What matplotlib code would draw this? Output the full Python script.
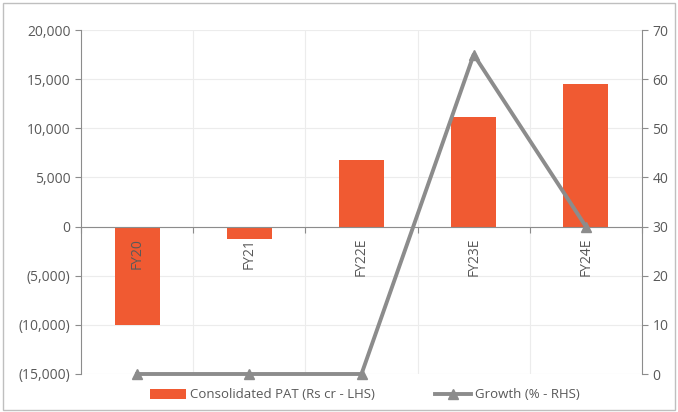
import numpy as np
import matplotlib.pyplot as plt
from matplotlib.ticker import FuncFormatter

# data
years = ['FY20', 'FY21', 'FY22E', 'FY23E', 'FY24E']
pat = [-10000, -1300, 6800, 11100, 14500]
growth = [0, 0, 0, 65, 30]

plt.rcParams['font.family'] = ['Open Sans', 'DejaVu Sans']
txt = '#595959'
gray = '#8c8c8c'
orange = '#F05A32'

fig = plt.figure(figsize=(6.78, 4.12), dpi=100)
ax = fig.add_axes([81/678, 38/412, (642-81)/678, (374-30)/412])
x = np.arange(len(years))

ax.bar(x, pat, width=0.4, color=orange, label='Consolidated PAT (Rs cr - LHS)', zorder=3)
ax.set_xlim(-0.5, len(years) - 0.5)
ax.set_ylim(-15000, 20000)
ax.set_yticks(np.arange(-15000, 20001, 5000))

def fmt(v, pos):
    if v < 0:
        return '({:,.0f})'.format(-v)
    return '{:,.0f}'.format(v)

ax.yaxis.set_major_formatter(FuncFormatter(fmt))
ax.tick_params(axis='y', colors=gray, labelcolor=txt, labelsize=10, length=4)

# category axis sits on zero
ax.spines['bottom'].set_position(('data', 0))
ax.spines['bottom'].set_color(gray)
ax.spines['bottom'].set_zorder(4)
ax.spines['top'].set_visible(False)
ax.spines['right'].set_visible(False)
ax.spines['left'].set_color(gray)
ax.set_xticks(np.arange(-0.5, len(years)))
ax.set_xticklabels([])
ax.tick_params(axis='x', length=4, color=gray)
# category names written on top of the bars
for i, name in enumerate(years):
    ax.annotate(name, (i, 0), xytext=(0, -8), textcoords='offset points',
                rotation=90, ha='center', va='top', color=txt, fontsize=10, zorder=5)

# light grid
for b in np.arange(0.5, len(years) - 0.5):
    ax.axvline(b, color='#ececec', lw=0.8, zorder=0)
for t in np.arange(-15000, 20001, 5000):
    ax.axhline(t, color='#ececec', lw=0.8, zorder=0)

ax2 = ax.twinx()
ax2.plot(x, growth, color=gray, lw=2.8, marker='^', markersize=7,
         label='Growth (% - RHS)', zorder=4, clip_on=False)
ax2.set_ylim(0, 70)
ax2.set_yticks(np.arange(0, 71, 10))
ax2.tick_params(axis='y', colors=gray, labelcolor=txt, labelsize=10, length=4)
for s in ['top', 'left', 'bottom']:
    ax2.spines[s].set_visible(False)
ax2.spines['right'].set_color(gray)

h1, l1 = ax.get_legend_handles_labels()
h2, l2 = ax2.get_legend_handles_labels()
fig.legend(h1 + h2, l1 + l2, loc='center', bbox_to_anchor=(365/678, 17/412),
           ncol=2, frameon=False, fontsize=9.5, labelcolor=txt,
           handlelength=2.7, handletextpad=0.3, columnspacing=4.6)

# thin frame round the figure
fig.patches.append(plt.Rectangle((0.004, 0.004), 0.992, 0.988, transform=fig.transFigure,
                                 fill=False, edgecolor='#bfbfbf', lw=1))

fig.savefig('out.png', dpi=100)
